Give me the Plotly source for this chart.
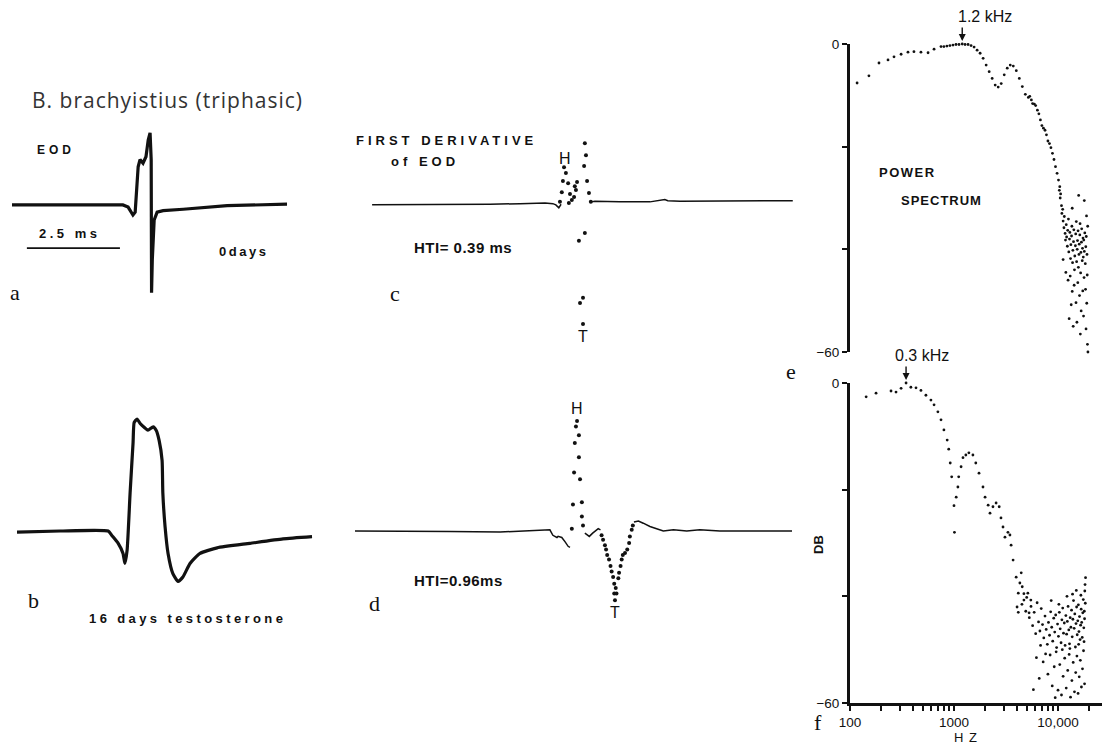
import math
import plotly.graph_objects as go

W, H = 1103, 744

# ---------------- data ----------------
# a: EOD at 0 days (time in ms, amplitude normalised to head-positive peak)
eod0_t = [0.00, 1.29, 2.37, 2.98, 3.12, 3.25, 3.31, 3.36, 3.39, 3.44, 3.52, 3.60, 3.66, 3.71,
          3.74, 3.745, 3.75, 3.77, 3.82, 3.90, 4.06, 4.60, 5.78, 7.39]
eod0_v = [0.00, 0.00, -0.01, 0.00, -0.03, -0.14, -0.10, 0.25, 0.53, 0.63, 0.58, 0.67, 0.90, 1.00,
          0.63, -0.31, -1.22, -0.76, -0.21, -0.10, -0.08, -0.06, -0.01, 0.01]
scale_bar_ms = [0.40, 2.90]
scale_bar_v = [-0.60, -0.60]

# b: EOD after 16 days testosterone
eod16_t = [0.00, 1.16, 2.45, 2.55, 2.72, 2.85, 2.90, 2.96, 3.04, 3.12, 3.15, 3.23, 3.31, 3.44, 3.52,
           3.66, 3.74, 3.82, 3.90, 3.92, 3.98, 4.06, 4.19, 4.33, 4.46, 4.65, 4.92, 5.38, 6.26, 7.15, 7.93]
eod16_v = [-0.01, 0.00, 0.00, -0.04, -0.11, -0.20, -0.29, -0.17, 0.34, 0.79, 0.97, 1.00, 0.96, 0.92, 0.90,
           0.93, 0.90, 0.81, 0.63, 0.34, 0.04, -0.20, -0.38, -0.45, -0.41, -0.29, -0.20, -0.15, -0.11, -0.07, -0.05]

# c: first derivative of EOD, 0 days
der0_line_t = [0.46, 1.21, 2.02, 2.82, 3.63, 4.44, 5.11, 5.32, 5.40, 5.48, 5.54, None,
               6.34, 6.45, 7.12, 7.93, 8.33, 8.41, 8.74, 9.54, 10.35, 11.16, 11.77]
der0_line_v = [-0.03, -0.03, -0.03, -0.02, -0.02, -0.01, 0.00, -0.01, -0.03, -0.08, -0.02, None,
               0.02, 0.03, 0.02, 0.02, 0.06, 0.04, 0.03, 0.03, 0.03, 0.03, 0.04]
der0_dot_t = [5.62, 5.67, 5.59, 5.73, 5.56, 5.78, 5.51, 5.75, 5.83, 5.89, 5.91, 5.94, 5.97, 6.18,
              6.21, 6.16, 6.24, 6.29, 6.34, 6.18, 6.02, 6.13, 6.05, 6.13]
der0_dot_v = [0.60, 0.50, 0.37, 0.33, 0.18, 0.15, 0.02, 0.00, 0.05, 0.10, 0.28, 0.22, 0.35, 1.00,
              0.80, 0.62, 0.37, 0.17, 0.02, -0.50, -0.63, -1.58, -1.67, -2.02]

# d: first derivative of EOD, 16 days testosterone
der16_line_t = [0.00, 1.21, 2.55, 3.90, 4.70, 5.24, 5.32, 5.43, 5.46, 5.56, 5.65, 5.73, 5.78, None,
                6.18, 6.30, 6.39, 6.54, 6.60, None,
                7.50, 7.62, 7.75, 7.93, 8.11, 8.29, 8.56, 8.92, 9.27, 9.81, 10.62, 11.75]
der16_line_v = [0.00, 0.00, -0.005, -0.01, 0.00, 0.01, -0.04, -0.06, -0.05, -0.06, -0.10, -0.14, -0.15, None,
                -0.02, -0.05, -0.02, 0.02, 0.01, None,
                0.08, 0.09, 0.07, 0.04, 0.02, 0.00, 0.01, 0.00, 0.01, 0.00, 0.00, 0.00]
der16_dot_t = [5.97, 5.94, 6.02, 5.91, 6.02, 5.89, 6.05, 5.86, 6.10, 6.10, 5.83, 6.13,
               6.63, 6.67, 6.72, 6.75, 6.78, 6.83, 6.87, 6.90, 6.94, 6.97, 7.01, 6.97, 7.03, 6.99,
               7.08, 7.10, 7.14, 7.17, 7.20, 7.26, 7.32, 7.37, 7.39, 7.44, 7.47]
der16_dot_v = [1.00, 0.95, 0.87, 0.80, 0.67, 0.53, 0.47, 0.24, 0.26, 0.13, 0.02, 0.05,
               -0.04, -0.08, -0.13, -0.17, -0.22, -0.26, -0.32, -0.37, -0.42, -0.48, -0.52, -0.57, -0.57, -0.63,
               -0.43, -0.38, -0.32, -0.26, -0.22, -0.20, -0.17, -0.11, -0.05, 0.01, 0.05]

# e: power spectrum, 0 days (Hz, dB)
spec0_hz = [117, 152, 190, 232, 265, 310, 361, 412, 481, 563, 643, 750, 800, 855, 914, 978, 1045, 1117,
            1200, 1277, 1365, 1459, 1560, 1668, 1783, 1906, 2037, 2178, 2328, 2489, 2661, 2845, 3041,
            3251, 3475, 3715, 3971, 4246, 4539, 4852, 5187, 5545, 5927, 6337, 6774, 7242, 7742, 8276,
            8848, 9459, 10112,
            5350, 5700, 6100, 6550, 7000, 7500, 8000, 8550, 9150, 9800, 10400,
            10300, 10500, 10600, 10800, 10900, 11100, 11200, 11400, 11500, 11700, 11800, 12000, 12100,
            12300, 12400, 12600, 12700, 12900, 13000, 13200, 13300, 13500, 13600, 13800, 13900, 14100,
            14200, 14400, 14500, 14700, 14800, 15000, 15100, 15300, 15400, 15600, 15700, 15900, 16000,
            16200, 16300, 16500, 16600, 16800, 16900, 17100, 17200, 17400, 17500, 17700, 17900, 18100,
            18300, 18500, 18700, 19000,
            11200, 11900, 12500, 13100, 13700, 14300, 14900, 15500, 16100, 16700, 17300, 17800, 18400,
            18900, 12800, 14000, 15200, 16400, 17600, 18600, 19200, 19400, 13400, 19100,
            15800, 17900, 18800, 13700, 19300]
spec0_db = [-7.6, -6.2, -3.7, -3.1, -2.5, -2.0, -1.6, -1.5, -1.6, -1.7, -1.0, -0.5, -0.5, -0.4, -0.3, -0.2, -0.1, -0.1,
            0.0, -0.1, -0.1, -0.3, -0.6, -1.2, -1.8, -2.8, -4.1, -5.4, -6.7, -8.0, -8.4, -7.7, -6.0,
            -4.7, -4.1, -4.3, -5.2, -6.7, -8.3, -9.8, -10.4, -10.9, -11.7, -12.9, -14.8, -16.4, -17.7, -19.4,
            -21.3, -23.9, -26.5,
            -10.2, -11.6, -12.0, -13.6, -15.9, -16.8, -18.9, -20.2, -22.5, -25.2, -27.8,
            -28.5, -30.0, -29.2, -31.5, -33.0, -32.2, -34.5, -35.8, -33.6, -36.9, -38.2, -35.2, -37.6,
            -39.4, -36.3, -34.1, -40.5, -38.0, -36.7, -41.8, -39.1, -37.4, -35.5, -42.6, -40.2, -38.5,
            -36.2, -44.0, -41.3, -39.3, -37.0, -34.6, -42.4, -40.0, -38.3, -36.4, -43.5, -41.0, -39.0,
            -37.2, -35.0, -44.6, -40.6, -38.6, -36.0, -42.2, -39.8, -37.8, -41.5, -38.2, -40.4, -36.8,
            -42.8, -39.5, -37.5, -41.0,
            -42.0, -44.5, -46.0, -45.2, -48.2, -47.0, -50.4, -46.5, -49.0, -52.0, -48.1, -45.5, -47.8,
            -50.5, -53.5, -55.0, -54.2, -56.5, -53.0, -55.5, -58.5, -60.0, -50.8, -45.0,
            -29.5, -30.5, -33.5, -32.0, -35.5]

# f: power spectrum, 16 days testosterone (Hz, dB)
spec16_hz = [143, 178, 248, 277, 310, 346, 385, 431, 481, 537, 600, 643, 700, 750, 800, 860, 890, 920,
             950, 1000, 1010, 1050, 1090, 1110, 1170, 1220, 1300, 1390, 1520, 1620, 1740, 1900, 1990,
             2130, 2220, 2370, 2540, 2720, 2830, 2960, 3090, 3300, 3450, 3540, 3700, 3960, 4150, 4430,
             4530, 4700, 5130, 5270, 5480, 4040, 4150,
             4300, 4500, 4700, 4900, 5000, 5300, 5500, 5700, 5900, 6100, 6300, 6500, 6700, 6900,
             7100, 7300, 7500, 7700, 7900, 8100, 8300, 8500, 8700, 8900, 9100, 9300, 9500, 9700, 9900,
             10100, 10300, 10500, 10700, 10900, 11100, 11300, 11500, 11700, 11900, 12100, 12300, 12500,
             12700, 12900, 13100, 13300, 13500, 13700, 13900, 14100, 14300, 14500, 14700, 14900, 15100,
             15300, 15500, 15700, 15900, 16100, 16300, 16500, 16700, 16900, 17100, 17300, 17500, 17700,
             17900, 18100, 18200, 18300, 18000, 17800,
             6200, 6600, 7200, 7600, 8000, 8400, 8800, 9200, 9600, 10000, 10400, 10800, 11200, 11600,
             12000, 12400, 12800, 13200, 13600, 14000, 14400, 14800, 15200, 15600, 16000, 16400, 16800,
             17200, 17600, 18000, 5800, 6800, 9400, 13000, 15800, 11000,
             8600, 10200, 12200, 13800, 15000, 16600, 18400]
spec16_db = [-2.6, -1.9, -1.5, -1.7, -1.0, 0.0, -0.8, -0.9, -1.4, -2.3, -3.2, -4.1, -5.4, -6.9, -8.8, -10.7, -12.4, -15.0,
             -17.6, -23.0, -28.0, -21.4, -19.5, -17.6, -15.7, -14.0, -13.5, -13.1, -13.5, -15.0, -16.9, -19.5, -21.4,
             -22.9, -24.4, -23.2, -22.5, -23.2, -25.3, -27.0, -28.9, -28.0, -28.5, -30.4, -33.2, -36.4, -39.4, -35.6,
             -38.2, -40.7, -39.4, -43.1, -40.7, -42.0, -43.0,
             -37.5, -41.5, -39.5, -42.8, -40.2, -44.0, -41.9, -45.5, -43.0, -47.0, -41.2, -44.8, -46.5, -42.3,
             -45.3, -47.8, -43.7, -46.2, -49.0, -44.9, -47.3, -42.9, -45.8, -48.4, -44.1, -46.7, -43.5, -49.6, -45.2,
             -47.5, -43.0, -46.1, -48.7, -44.4, -42.2, -46.9, -45.0, -49.2, -43.6, -47.1, -44.7, -41.9,
             -46.3, -48.9, -44.0, -45.8, -42.6, -47.6, -44.3, -40.8, -46.0, -43.3, -49.5, -45.1, -42.0,
             -47.2, -44.6, -41.6, -46.6, -43.8, -48.1, -45.4, -42.4, -44.9, -47.7, -43.1, -40.6, -45.9,
             -42.8, -39.0, -37.8, -41.3, -44.2, -48.5,
             -51.5, -55.4, -52.3, -50.8, -54.6, -51.0, -56.8, -53.2, -50.4, -57.6, -52.8, -58.5, -55.0, -51.6,
             -57.2, -53.9, -50.9, -58.9, -55.8, -52.4, -57.9, -54.3, -51.2, -58.2, -55.1, -52.0, -57.0,
             -53.6, -50.2, -56.4, -57.5, -49.2, -59.0, -49.8, -49.0, -50.0,
             -40.8, -41.5, -40.0, -39.6, -38.9, -39.8, -36.5]

freq_ticks = [100, 200, 300, 400, 500, 600, 700, 800, 900, 1000, 2000, 3000, 4000, 5000, 6000, 7000,
              8000, 9000, 10000, 20000]
freq_labels = {100: "100", 1000: "1000", 10000: "10,000"}
db_ticks = [0, -20, -40, -60]
db_labels = {0: "0", -60: "\u221260"}

# ---------------- layout helpers ----------------
def fx(p):
    return p / W


def fy(p):
    return 1 - p / H


def dom_x(a, b):
    return [fx(a), fx(b)]


def dom_y(top, bottom):
    return [fy(bottom), fy(top)]


INK = "#111111"
SANS = "Liberation Sans, Arial, sans-serif"
SERIF = "Liberation Serif, Times New Roman, serif"

fig = go.Figure()

# a
fig.add_trace(go.Scatter(x=eod0_t, y=eod0_v, mode="lines", line=dict(color=INK, width=3.2),
                         xaxis="x", yaxis="y", hoverinfo="skip"))
fig.add_trace(go.Scatter(x=scale_bar_ms, y=scale_bar_v, mode="lines", line=dict(color=INK, width=1.6),
                         xaxis="x", yaxis="y", hoverinfo="skip"))
# b
fig.add_trace(go.Scatter(x=eod16_t, y=eod16_v, mode="lines", line=dict(color=INK, width=3.2, shape="spline", smoothing=0.5),
                         xaxis="x2", yaxis="y2", hoverinfo="skip"))
# c
fig.add_trace(go.Scatter(x=der0_line_t, y=der0_line_v, mode="lines", line=dict(color=INK, width=1.5),
                         xaxis="x3", yaxis="y3", hoverinfo="skip", connectgaps=False))
fig.add_trace(go.Scatter(x=der0_dot_t, y=der0_dot_v, mode="markers", marker=dict(color=INK, size=4),
                         xaxis="x3", yaxis="y3", hoverinfo="skip", cliponaxis=False))
# d
fig.add_trace(go.Scatter(x=der16_line_t, y=der16_line_v, mode="lines", line=dict(color=INK, width=1.5),
                         xaxis="x4", yaxis="y4", hoverinfo="skip", connectgaps=False))
fig.add_trace(go.Scatter(x=der16_dot_t, y=der16_dot_v, mode="markers", marker=dict(color=INK, size=4),
                         xaxis="x4", yaxis="y4", hoverinfo="skip", cliponaxis=False))
# e
fig.add_trace(go.Scatter(x=spec0_hz, y=spec0_db, mode="markers", marker=dict(color=INK, size=2.8),
                         xaxis="x5", yaxis="y5", hoverinfo="skip", cliponaxis=False))
# f
fig.add_trace(go.Scatter(x=spec16_hz, y=spec16_db, mode="markers", marker=dict(color=INK, size=2.8),
                         xaxis="x6", yaxis="y6", hoverinfo="skip", cliponaxis=False))

hidden = dict(visible=False, fixedrange=True, automargin=False)

# spectrum axes
LOG_LO = 2.0
LOG_HI = 2.0 + (1102 - 850) / 104.0
spec_x = dict(type="log", range=[LOG_LO, LOG_HI], domain=dom_x(850, 1102), automargin=False)
spec_tick_font = dict(family=SANS, size=13.5, color=INK)
spec_axis_style = dict(showline=True, linewidth=3, linecolor=INK, showgrid=False, zeroline=False,
                       ticks="outside", ticklen=5, tickwidth=2, tickcolor=INK, tickmode="array",
                       tickfont=spec_tick_font, automargin=False)

fig.update_layout(
    width=W, height=H,
    margin=dict(l=0, r=0, t=0, b=0, pad=0),
    paper_bgcolor="white", plot_bgcolor="white",
    showlegend=False,
    xaxis=dict(hidden, range=[0, 7.47], domain=dom_x(12, 290)),
    yaxis=dict(hidden, range=[-1.32, 1.11], domain=dom_y(125, 300)),
    xaxis2=dict(hidden, range=[0, 8.01], domain=dom_x(17, 315)),
    yaxis2=dict(hidden, range=[-0.616, 1.17], domain=dom_y(400, 600)),
    xaxis3=dict(hidden, range=[0, 11.83], domain=dom_x(355, 795)),
    yaxis3=dict(hidden, range=[-2.37, 1.22], domain=dom_y(130, 345)),
    xaxis4=dict(hidden, range=[0, 11.83], domain=dom_x(355, 795)),
    yaxis4=dict(hidden, range=[-0.81, 1.19], domain=dom_y(400, 620)),
    xaxis5=dict(spec_x, visible=False, anchor="y5"),
    yaxis5=dict(spec_axis_style, range=[-60, 0], domain=dom_y(44, 352), anchor="x5",
                tickvals=db_ticks, ticktext=[db_labels.get(v, "") for v in db_ticks]),
    xaxis6=dict(spec_x, **spec_axis_style, anchor="y6",
                tickvals=freq_ticks, ticktext=[freq_labels.get(v, "") for v in freq_ticks]),
    yaxis6=dict(spec_axis_style, range=[-60, 0], domain=dom_y(383, 703), anchor="x6",
                tickvals=db_ticks, ticktext=[db_labels.get(v, "") for v in db_ticks]),
)


def spaced(txt, sp):
    return '<span style="letter-spacing:%spx">%s</span>' % (sp, txt)


def label(text, x, y, size=13, family=SANS, anchor="center", color=INK, angle=0):
    fig.add_annotation(text=text, x=fx(x), y=fy(y), xref="paper", yref="paper",
                       xanchor=anchor, yanchor="middle", showarrow=False, textangle=angle,
                       font=dict(family=family, size=size, color=color))


label(spaced("B. brachyistius (triphasic)", 1), 30, 100, size=21, family="Open Sans, sans-serif",
      anchor="left", color="#333333")
label("<b>" + spaced("EOD", 4) + "</b>", 35, 150, size=12, anchor="left")
label("<b>" + spaced("2.5 ms", 3.5) + "</b>", 37, 234, size=13, anchor="left")
label("<b>" + spaced("0days", 2.5) + "</b>", 217, 252, size=13, anchor="left")
label("<b>" + spaced("16 days testosterone", 3.4) + "</b>", 87, 618, size=13, anchor="left")
label("<b>" + spaced("FIRST DERIVATIVE", 4) + "</b>", 354, 140, size=13, anchor="left")
label("<b>" + spaced("of EOD", 4) + "</b>", 389, 161, size=13, anchor="left")
label("H", 565, 158, size=16)
label("T", 583, 337, size=16)
label("<b>" + spaced("HTI= 0.39 ms", 0.5) + "</b>", 412, 248, size=15, anchor="left")
label("H", 577, 409, size=16)
label("T", 615, 612, size=16)
label("<b>" + spaced("HTI=0.96ms", 0.5) + "</b>", 412, 580, size=15, anchor="left")
label("<b>" + spaced("POWER", 1.5) + "</b>", 877, 172, size=13, anchor="left")
label("<b>" + spaced("SPECTRUM", 1) + "</b>", 899, 200, size=13, anchor="left")
label("<b>DB</b>", 818, 545, size=13, angle=-90)
label(spaced("H Z", 1), 966, 737, size=13)
for t, x, y in [("a", 15, 292), ("b", 33, 600), ("c", 395, 293), ("d", 374, 603), ("e", 791, 371), ("f", 818, 722)]:
    label(t, x, y, size=22, family=SERIF)

# peak markers on the spectra
pk0 = spec0_hz[spec0_db.index(max(spec0_db))]
pk16 = spec16_hz[spec16_db.index(max(spec16_db))]
for pk, xa, ya, txt, dx in [(pk0, "x5", "y5", "1.2 kHz", -6), (pk16, "x6", "y6", "0.3 kHz", -13)]:
    fig.add_annotation(x=math.log10(pk), y=0, xref=xa, yref=ya, text="", showarrow=True,
                       arrowhead=2, arrowsize=1, arrowwidth=1.4, arrowcolor=INK, ax=0, ay=-18, standoff=3)
    fig.add_annotation(x=math.log10(pk), y=0, xref=xa, yref=ya, text=txt, showarrow=False,
                       xanchor="left", yanchor="bottom", xshift=dx, yshift=17,
                       font=dict(family=SANS, size=16, color=INK))

fig.write_html("out.html")
